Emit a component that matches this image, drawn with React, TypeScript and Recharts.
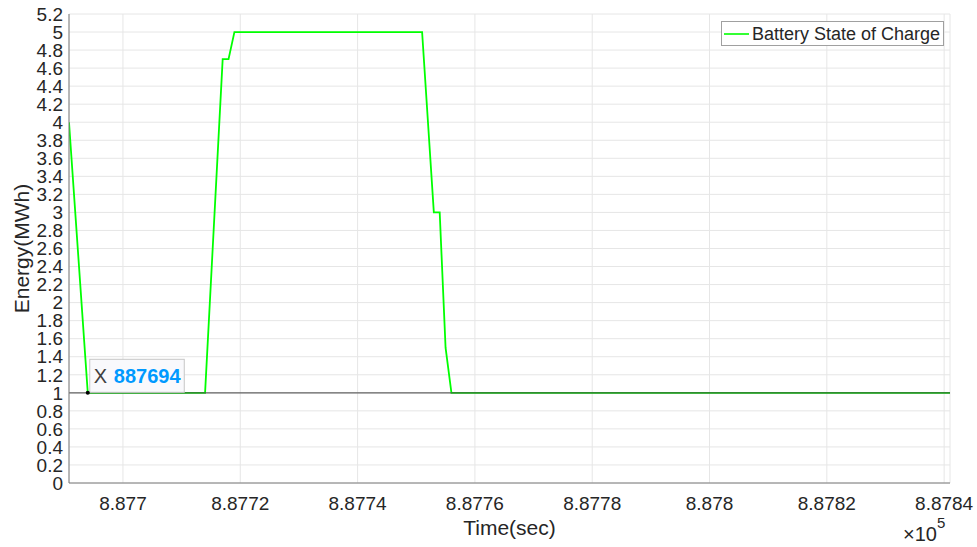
import React from 'react';
import {
  LineChart, Line, XAxis, YAxis, CartesianGrid, ReferenceLine, ReferenceDot, Legend, Label,
} from 'recharts';

// Battery state of charge
const timeSec = [887690.8, 887694, 887714, 887717, 887718, 887719, 887751, 887753, 887754, 887755, 887756, 887841];
const energyMWh = [4, 1, 1, 4.7, 4.7, 5, 5, 3, 3, 1.5, 1, 1];

const xDomain = [887690.8, 887841];
const xTicks = [887700, 887720, 887740, 887760, 887780, 887800, 887820, 887840];
const xTickLabels = ['8.877', '8.8772', '8.8774', '8.8776', '8.8778', '8.878', '8.8782', '8.8784'];
const yTicks = [0, 0.2, 0.4, 0.6, 0.8, 1, 1.2, 1.4, 1.6, 1.8, 2, 2.2, 2.4, 2.6, 2.8, 3, 3.2, 3.4, 3.6, 3.8, 4, 4.2, 4.4, 4.6, 4.8, 5, 5.2];
const yTickLabels = ['0', '0.2', '0.4', '0.6', '0.8', '1', '1.2', '1.4', '1.6', '1.8', '2', '2.2', '2.4', '2.6', '2.8', '3', '3.2', '3.4', '3.6', '3.8', '4', '4.2', '4.4', '4.6', '4.8', '5', '5.2'];

const baseline = 1;
const cursorPoint = { t: 887694, e: 1 };
const seriesName = 'Battery State of Charge';

const FONT = '"Liberation Sans", Arial, Helvetica, sans-serif';
const TEXT = '#262626';
const AXIS = '#7a7a7a';

const data = timeSec.map((t, i) => ({ t, e: energyMWh[i] }));
const noTick = () => <g />;

function DataTip(props: any) {
  const { cx, cy } = props;
  return (
    <g>
      <rect x={cx + 2} y={cy - 33.5} width={94.5} height={33} fill="#f9f9fc" stroke="#c6c6c6" strokeWidth={1} />
      <text x={cx + 6} y={cy - 9.5} fontSize={20} fill="#404040" fontFamily={FONT}>X</text>
      <text x={cx + 26} y={cy - 9.5} fontSize={20} fontWeight="bold" fill="#0099ff" fontFamily={FONT}>
        {String(cursorPoint.t)}
      </text>
      <circle cx={cx} cy={cy} r={2} fill="#000" />
    </g>
  );
}

function LegendBox() {
  return (
    <div style={{
      width: 223, height: 25, boxSizing: 'border-box', border: '1px solid #a0a0a0', background: '#fff',
      display: 'flex', alignItems: 'center', fontFamily: FONT,
    }}>
      <svg width={28} height={6} style={{ marginLeft: 2 }}>
        <line x1={0} y1={3} x2={25} y2={3} stroke="#00ff00" strokeWidth={1.6} />
      </svg>
      <span style={{ fontSize: 18, color: TEXT, lineHeight: '20px' }}>{seriesName}</span>
    </div>
  );
}

export default function App() {
  return (
    <div style={{ position: 'absolute', left: 0, top: 0, width: 977, height: 547, background: '#fff' }}>
      <LineChart width={977} height={547} data={data} margin={{ top: 14, right: 27, left: 0, bottom: 0 }}>
        <CartesianGrid stroke="#e6e6e6" strokeWidth={1} />
        {/* inward tick marks + box, MATLAB style */}
        <XAxis xAxisId="bt" dataKey="t" type="number" domain={xDomain} ticks={xTicks} allowDataOverflow interval={0}
          orientation="bottom" mirror height={0} tick={noTick} axisLine={false} tickSize={7} tickLine={{ stroke: AXIS }} />
        <XAxis xAxisId="tp" dataKey="t" type="number" domain={xDomain} ticks={xTicks} allowDataOverflow interval={0}
          orientation="top" mirror height={0} tick={noTick} axisLine={{ stroke: AXIS }} tickSize={7} tickLine={{ stroke: AXIS }} />
        <YAxis yAxisId="lt" type="number" domain={[0, 5.2]} ticks={yTicks} allowDataOverflow interval={0}
          orientation="left" mirror width={0} tick={noTick} axisLine={false} tickSize={7} tickLine={{ stroke: AXIS }} />
        <YAxis yAxisId="rt" type="number" domain={[0, 5.2]} ticks={yTicks} allowDataOverflow interval={0}
          orientation="right" mirror width={0} tick={noTick} axisLine={{ stroke: AXIS }} tickSize={7} tickLine={{ stroke: AXIS }} />

        <XAxis
          dataKey="t" type="number" domain={xDomain} ticks={xTicks} allowDataOverflow height={64} interval={0}
          tickLine={false} tickSize={6} tickMargin={8} axisLine={{ stroke: AXIS }}
          tickFormatter={(v: number) => xTickLabels[xTicks.indexOf(v)]}
          tick={{ fontSize: 19, fill: TEXT, fontFamily: FONT }}
        >
          <Label content={({ viewBox }: any) => (
            <text x={viewBox.x + viewBox.width / 2} y={viewBox.y + 52} textAnchor="middle"
              fontSize={21} fill={TEXT} fontFamily={FONT}>Time(sec)</text>
          )} />
          <Label content={({ viewBox }: any) => (
            <text x={viewBox.x + viewBox.width - 47} y={viewBox.y + 58} fontSize={20} fill={TEXT} fontFamily={FONT}>
              ×10<tspan dy={-13} fontSize={15}>5</tspan>
            </text>
          )} />
        </XAxis>
        <YAxis
          type="number" domain={[0, 5.2]} ticks={yTicks} allowDataOverflow width={69} interval={0}
          tickLine={false} tickSize={6} tickMargin={0} axisLine={{ stroke: AXIS }}
          tickFormatter={(v: number) => yTickLabels[yTicks.indexOf(v)]}
          tick={{ fontSize: 19, fill: TEXT, fontFamily: FONT }}
        >
          <Label content={({ viewBox }: any) => {
            const x = viewBox.x + 29;
            const y = viewBox.y + viewBox.height / 2;
            return (
              <text x={x} y={y} transform={`rotate(-90 ${x} ${y})`} textAnchor="middle"
                fontSize={21} fill={TEXT} fontFamily={FONT}>Energy(MWh)</text>
            );
          }} />
        </YAxis>

        <Line type="linear" dataKey="e" name={seriesName} stroke="#00ff00" strokeWidth={1.8}
          dot={false} isAnimationActive={false} />
        <ReferenceLine y={baseline} stroke="#4a4a4a" strokeWidth={1.3} strokeOpacity={0.85} />
        <ReferenceDot x={cursorPoint.t} y={cursorPoint.e} shape={DataTip} />

        <Legend layout="vertical" align="center" verticalAlign="middle"
          wrapperStyle={{ left: 721, top: 21, width: 223 }} content={() => <LegendBox />} />
      </LineChart>
    </div>
  );
}
